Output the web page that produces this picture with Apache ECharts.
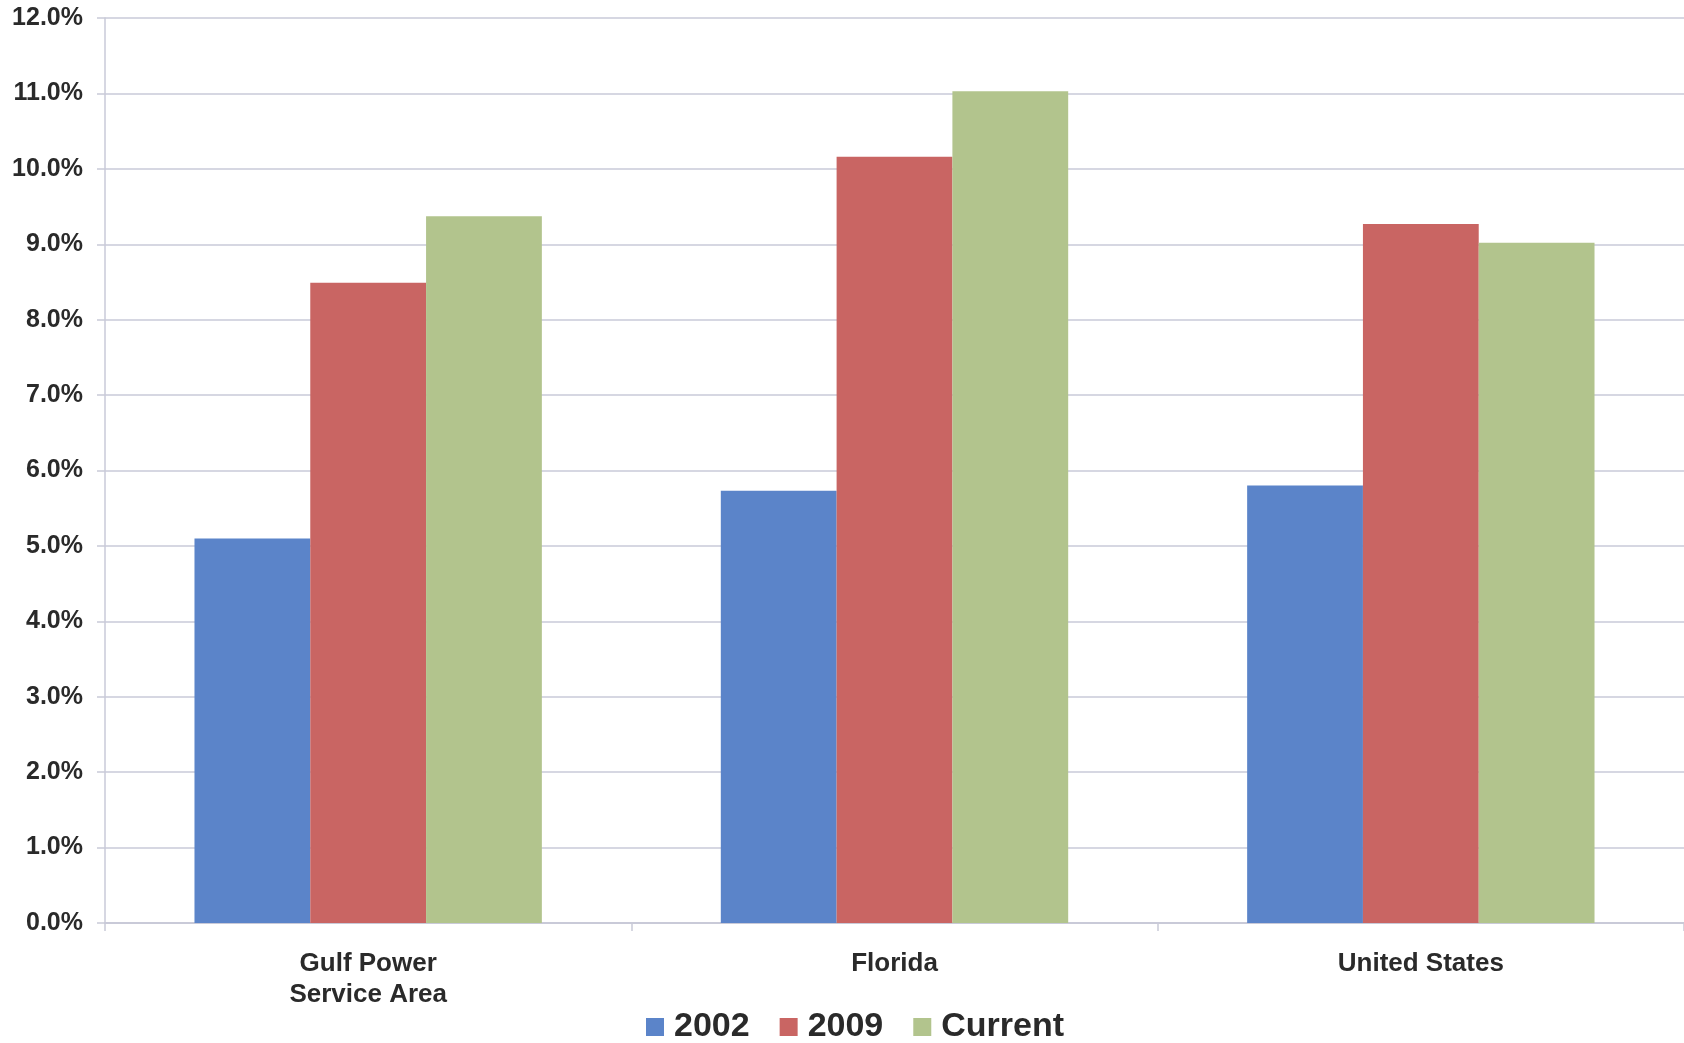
<!DOCTYPE html>
<html>
<head>
<meta charset="utf-8">
<title>Growth Rates</title>
<script src="https://cdn.jsdelivr.net/npm/echarts@6/dist/echarts.min.js"></script>
<style>
  html, body { margin: 0; padding: 0; background: #ffffff; }
  #chart { width: 1684px; height: 1043px; }
</style>
</head>
<body>
<div id="chart"></div>
<script>
// Regions along the x axis
const categories = ['Gulf Power\nService Area', 'Florida', 'United States'];

// Percent values per period
const values2002 = [5.10, 5.73, 5.80];
const values2009 = [8.49, 10.16, 9.27];
const valuesCurrent = [9.37, 11.03, 9.02];

const seriesNames = ['2002', '2009', 'Current'];
const seriesColors = ['#5b84c9', '#c96563', '#b2c48d'];

// Y axis range and ticks (percent)
const yMin = 0;
const yMax = 12;
const yStep = 1;

const fontFamily = '"Liberation Sans", Arial, Helvetica, sans-serif';
const textColor = '#2a2a2a';
const gridColor = '#c9cad8';

const chart = echarts.init(document.getElementById('chart'), null, { renderer: 'canvas' });

const dataSets = [values2002, values2009, valuesCurrent];

chart.setOption({
  backgroundColor: '#ffffff',
  animation: false,
  color: seriesColors,
  grid: { left: 105, right: 0, top: 18, bottom: 120, containLabel: false },
  legend: {
    left: 641,
    top: 1005,
    itemWidth: 18,
    itemHeight: 18,
    itemGap: 30,
    icon: 'rect',
    textStyle: {
      fontFamily: fontFamily,
      fontWeight: 'bold',
      fontSize: 34,
      color: textColor,
      padding: [0, 0, 0, 5]
    },
    data: seriesNames
  },
  xAxis: {
    type: 'category',
    data: categories,
    axisLine: { show: true, lineStyle: { color: gridColor, width: 2 } },
    axisTick: { show: true, length: 8, lineStyle: { color: gridColor, width: 1.5 } },
    axisLabel: {
      margin: 25,
      fontFamily: fontFamily,
      fontWeight: 'bold',
      fontSize: 26,
      lineHeight: 31,
      color: textColor
    },
    splitLine: { show: false }
  },
  yAxis: {
    type: 'value',
    min: yMin,
    max: yMax,
    interval: yStep,
    axisLine: { show: true, lineStyle: { color: gridColor, width: 1.5 } },
    axisTick: { show: true, length: 8, lineStyle: { color: gridColor, width: 1.5 } },
    axisLabel: {
      margin: 22,
      fontFamily: fontFamily,
      fontWeight: 'bold',
      fontSize: 25,
      color: textColor,
      formatter: v => v.toFixed(1) + '%'
    },
    splitLine: { show: true, lineStyle: { color: gridColor, width: 1.5 } }
  },
  series: seriesNames.map((name, i) => ({
    name: name,
    type: 'bar',
    data: dataSets[i],
    barGap: '0%',
    barCategoryGap: '34%',
    itemStyle: { color: seriesColors[i] }
  }))
});
</script>
</body>
</html>
